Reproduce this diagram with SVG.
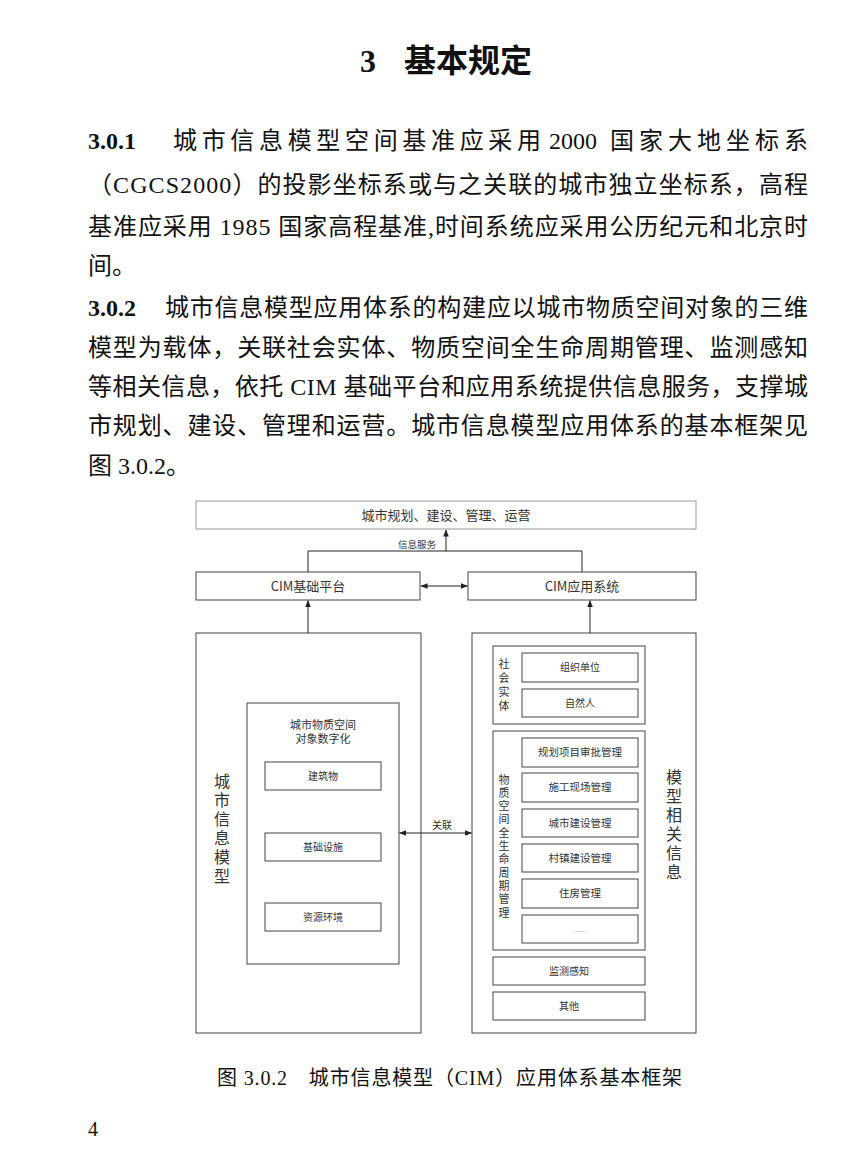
<svg xmlns="http://www.w3.org/2000/svg" width="862" height="1174" viewBox="0 0 862 1174">
<style>
.page{font-family:"Liberation Serif","Noto Sans CJK SC",serif;fill:#111;}
.body{font-size:24px;}
.b{font-weight:bold;}
.d{font-family:"Noto Sans CJK SC","Liberation Sans",sans-serif;fill:#333;}
.v{writing-mode:tb;text-anchor:middle;}
.box{fill:#fff;stroke:#444;stroke-width:1;}
.lbox{fill:#fff;stroke:#999;stroke-width:1;}
.c{stroke:#222;stroke-width:1;fill:none;}
</style>
<defs>
<marker id="ah" viewBox="0 0 8 8" refX="7.5" refY="4" markerWidth="7" markerHeight="7" markerUnits="userSpaceOnUse" orient="auto-start-reverse">
<path d="M0,0.8 L8,4 L0,7.2 Z" fill="#222"/>
</marker>
</defs>
<rect width="862" height="1174" fill="#fff"/>

<g id="page-text" class="page">
<text x="446" y="72" text-anchor="middle" font-size="32" class="b">3<tspan dx="28">基本规定</tspan></text>
<text class="body b" x="88" y="149">3.0.1</text>
<text class="body" x="173" y="149" textLength="368" lengthAdjust="spacing">城市信息模型空间基准应采用</text>
<text class="body" x="549" y="149">2000</text>
<text class="body" x="610" y="149" textLength="198" lengthAdjust="spacing">国家大地坐标系</text>
<text class="body" x="88" y="193" textLength="720" lengthAdjust="spacing">（CGCS2000）的投影坐标系或与之关联的城市独立坐标系，高程</text>
<text class="body" x="88" y="235" textLength="720" lengthAdjust="spacing">基准应采用 1985 国家高程基准,时间系统应采用公历纪元和北京时</text>
<text class="body" x="88" y="274">间。</text>
<text class="body b" x="88" y="316">3.0.2</text>
<text class="body" x="165" y="316" textLength="643" lengthAdjust="spacing">城市信息模型应用体系的构建应以城市物质空间对象的三维</text>
<text class="body" x="88" y="356" textLength="720" lengthAdjust="spacing">模型为载体，关联社会实体、物质空间全生命周期管理、监测感知</text>
<text class="body" x="88" y="395" textLength="720" lengthAdjust="spacing">等相关信息，依托 CIM 基础平台和应用系统提供信息服务，支撑城</text>
<text class="body" x="88" y="434" textLength="720" lengthAdjust="spacing">市规划、建设、管理和运营。城市信息模型应用体系的基本框架见</text>
<text class="body" x="88" y="474">图 3.0.2。</text>
<text x="217" y="1085" font-size="20" textLength="465" lengthAdjust="spacing">图 3.0.2　城市信息模型（CIM）应用体系基本框架</text>
<text x="88" y="1136" font-size="20">4</text>
</g>

<g id="node-top">
<rect class="lbox" x="196" y="501" width="500" height="28"/>
<text class="d" x="446" y="519.5" font-size="13" text-anchor="middle">城市规划、建设、管理、运营</text>
</g>
<g id="node-cim-platform">
<rect class="box" x="196" y="572" width="224" height="28"/>
<text class="d" x="308" y="590.5" font-size="13" text-anchor="middle">CIM基础平台</text>
</g>
<g id="node-cim-app">
<rect class="box" x="468" y="572" width="228" height="28"/>
<text class="d" x="582" y="590.5" font-size="13" text-anchor="middle">CIM应用系统</text>
</g>

<g id="node-city-model">
<rect class="box" x="196" y="633" width="225" height="400"/>
<text class="d v" x="222" y="830" font-size="16" letter-spacing="3">城市信息模型</text>
</g>
<g id="node-digitize">
<rect class="box" x="247" y="703" width="152" height="261"/>
<text class="d" font-size="11" text-anchor="middle"><tspan x="323" y="729">城市物质空间</tspan><tspan x="323" y="743">对象数字化</tspan></text>
</g>
<g id="node-building">
<rect class="box" x="265" y="762" width="116" height="28"/>
<text class="d" x="323" y="779.5" font-size="10" text-anchor="middle">建筑物</text>
</g>
<g id="node-infra">
<rect class="box" x="265" y="833" width="116" height="28"/>
<text class="d" x="323" y="850.5" font-size="10" text-anchor="middle">基础设施</text>
</g>
<g id="node-resource">
<rect class="box" x="265" y="903" width="116" height="28"/>
<text class="d" x="323" y="920.5" font-size="10" text-anchor="middle">资源环境</text>
</g>

<g id="node-related">
<rect class="box" x="472" y="633" width="224" height="400"/>
<text class="d v" x="674" y="826" font-size="16" letter-spacing="3">模型相关信息</text>
</g>
<g id="node-social">
<rect class="box" x="493" y="646" width="152" height="78"/>
<text class="d v" x="504" y="686" font-size="11" letter-spacing="3">社会实体</text>
</g>
<g id="node-org">
<rect class="box" x="522" y="653" width="116" height="29"/>
<text class="d" x="580" y="671" font-size="10" text-anchor="middle">组织单位</text>
</g>
<g id="node-person">
<rect class="box" x="522" y="689" width="116" height="28"/>
<text class="d" x="580" y="706.5" font-size="10" text-anchor="middle">自然人</text>
</g>
<g id="node-lifecycle">
<rect class="box" x="493" y="731" width="152" height="219"/>
<text class="d v" x="504" y="847" font-size="11" letter-spacing="2.3">物质空间全生命周期管理</text>
</g>
<g id="node-plan">
<rect class="box" x="522" y="738" width="116" height="29"/>
<text class="d" x="580" y="756" font-size="10.5" text-anchor="middle">规划项目审批管理</text>
</g>
<g id="node-site">
<rect class="box" x="522" y="773" width="116" height="29"/>
<text class="d" x="580" y="791" font-size="10.5" text-anchor="middle">施工现场管理</text>
</g>
<g id="node-urban">
<rect class="box" x="522" y="809" width="116" height="28"/>
<text class="d" x="580" y="826.5" font-size="10.5" text-anchor="middle">城市建设管理</text>
</g>
<g id="node-village">
<rect class="box" x="522" y="844" width="116" height="28"/>
<text class="d" x="580" y="861.5" font-size="10.5" text-anchor="middle">村镇建设管理</text>
</g>
<g id="node-housing">
<rect class="box" x="522" y="879" width="116" height="29"/>
<text class="d" x="580" y="897" font-size="10.5" text-anchor="middle">住房管理</text>
</g>
<g id="node-etc">
<rect class="box" x="522" y="915" width="116" height="28"/>
<text class="d" x="580" y="932" font-size="8" text-anchor="middle" style="fill:#aaa">......</text>
</g>
<g id="node-monitor">
<rect class="box" x="493" y="957" width="152" height="28"/>
<text class="d" x="569" y="974.5" font-size="10" text-anchor="middle">监测感知</text>
</g>
<g id="node-other">
<rect class="box" x="493" y="992" width="152" height="28"/>
<text class="d" x="569" y="1009.5" font-size="10" text-anchor="middle">其他</text>
</g>

<g id="connectors">
<path class="c" d="M308,572 V551 H582 V572"/>
<line class="c" x1="446" y1="551" x2="446" y2="530" marker-end="url(#ah)"/>
<text class="d" x="417" y="547.5" font-size="9.5" text-anchor="middle">信息服务</text>
<line class="c" x1="308" y1="633" x2="308" y2="600.5" marker-end="url(#ah)"/>
<line class="c" x1="590" y1="633" x2="590" y2="600.5" marker-end="url(#ah)"/>
<line class="c" x1="421" y1="586" x2="467.5" y2="586" marker-start="url(#ah)" marker-end="url(#ah)"/>
<line class="c" x1="399.5" y1="833" x2="471.5" y2="833" marker-start="url(#ah)" marker-end="url(#ah)"/>
<text class="d" x="442" y="829" font-size="10" text-anchor="middle">关联</text>
</g>
</svg>
